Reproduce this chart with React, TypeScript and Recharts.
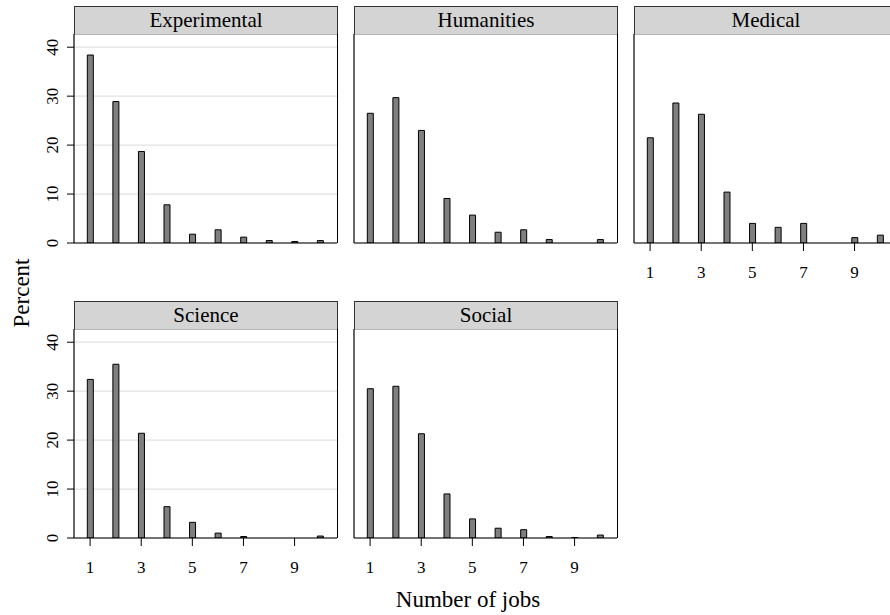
import React from "react";
import { BarChart, Bar, XAxis, YAxis, CartesianGrid } from "recharts";

const jobs = [1, 2, 3, 4, 5, 6, 7, 8, 9, 10];
const experimental = [38.4, 28.9, 18.7, 7.8, 1.8, 2.7, 1.2, 0.5, 0.3, 0.5];
const humanities = [26.5, 29.7, 23.0, 9.1, 5.7, 2.2, 2.7, 0.7, 0, 0.7];
const medical = [21.5, 28.6, 26.3, 10.4, 4.0, 3.2, 4.0, 0, 1.1, 1.6];
const science = [32.4, 35.5, 21.4, 6.4, 3.2, 1.0, 0.3, 0, 0, 0.4];
const social = [30.5, 31.0, 21.3, 9.0, 3.9, 2.0, 1.7, 0.3, 0.1, 0.6];

const xTicks = [1, 3, 5, 7, 9];
const yTicks = [0, 10, 20, 30, 40];
const xDomain = [0.37, 10.66];
const yDomain = [0, 42.7];

const FONT = "'Liberation Serif', 'Times New Roman', serif";

const PLOT_W = 263;
const PLOT_H = 209;
const HEADER_H = 28;
const AXIS_W = 60;
const XAXIS_H = 45;

type PanelSpec = {
  title: string;
  values: number[];
  col: number;
  row: number;
  showY: boolean;
  showX: boolean;
};

const panels: PanelSpec[] = [
  { title: "Experimental", values: experimental, col: 0, row: 0, showY: true, showX: false },
  { title: "Humanities", values: humanities, col: 1, row: 0, showY: false, showX: false },
  { title: "Medical", values: medical, col: 2, row: 0, showY: false, showX: true },
  { title: "Science", values: science, col: 0, row: 1, showY: true, showX: true },
  { title: "Social", values: social, col: 1, row: 1, showY: false, showX: true },
];

const colLeft = [74, 354, 634];
const headerTop = [6, 301];

const YTick = (props: any) => {
  const { x, y, payload } = props;
  return (
    <text
      x={x}
      y={y}
      transform={`rotate(-90 ${x} ${y})`}
      textAnchor="middle"
      dy="0.35em"
      fontSize={17}
      fill="#000"
      fontFamily={FONT}
    >
      {payload.value}
    </text>
  );
};

function Panel({ spec }: { spec: PanelSpec }) {
  const data = jobs.map((j, i) => ({ jobs: j, pct: spec.values[i] }));
  const left = colLeft[spec.col];
  const hTop = headerTop[spec.row];
  const pTop = hTop + HEADER_H;
  return (
    <>
      <div
        style={{
          position: "absolute",
          left: left,
          top: hTop,
          width: PLOT_W + 1,
          height: HEADER_H + 1,
          boxSizing: "border-box",
          border: "1px solid #333",
          background: "#d4d4d4",
          fontSize: 21,
          lineHeight: `${HEADER_H - 2}px`,
          textAlign: "center",
          color: "#000",
          fontFamily: FONT,
        }}
      >
        {spec.title}
      </div>
      <div style={{ position: "absolute", left: left - AXIS_W, top: pTop }}>
        <BarChart
          width={AXIS_W + PLOT_W + 10}
          height={PLOT_H + XAXIS_H}
          data={data}
          margin={{ top: 0, right: 10, bottom: 0, left: 0 }}
        >
          <CartesianGrid horizontal={true} vertical={false} stroke="#e2e2e2" strokeWidth={1.3} />
          <XAxis
            dataKey="jobs"
            type="number"
            domain={xDomain}
            ticks={xTicks}
            allowDataOverflow
            height={XAXIS_H}
            axisLine={{ stroke: "#000", strokeWidth: 1.2 }}
            tickLine={spec.showX ? { stroke: "#000" } : false}
            tick={spec.showX ? { fontSize: 17, fill: "#000", fontFamily: FONT } : false}
            tickSize={8}
            tickMargin={15}
            interval={0}
          />
          <YAxis
            type="number"
            domain={yDomain}
            ticks={yTicks}
            allowDataOverflow
            width={AXIS_W}
            axisLine={{ stroke: "#000", strokeWidth: 1.2 }}
            tickLine={spec.showY ? { stroke: "#000" } : false}
            tick={spec.showY ? <YTick /> : false}
            tickSize={7}
            tickMargin={14.5}
            interval={0}
          />
          <Bar
            dataKey="pct"
            fill="#7f7f7f"
            stroke="#000"
            strokeWidth={1}
            barSize={6}
            isAnimationActive={false}
          />
        </BarChart>
      </div>
      <div
        style={{
          position: "absolute",
          left: left,
          top: pTop,
          width: PLOT_W + 1,
          height: PLOT_H,
          boxSizing: "border-box",
          borderRight: "1.2px solid #000",
          pointerEvents: "none",
        }}
      />
    </>
  );
}

export default function App() {
  return (
    <div
      style={{
        position: "absolute",
        left: 0,
        top: 0,
        width: 890,
        height: 615,
        overflow: "hidden",
        background: "#fff",
        fontFamily: FONT,
      }}
    >
      {panels.map((p) => (
        <Panel key={p.title} spec={p} />
      ))}
      <svg
        width={890}
        height={615}
        style={{ position: "absolute", left: 0, top: 0, pointerEvents: "none" }}
      >
        <text
          x={21}
          y={293}
          transform="rotate(-90 21 293)"
          textAnchor="middle"
          dy="0.35em"
          fontSize={23}
          fill="#000"
          fontFamily={FONT}
        >
          Percent
        </text>
        <text
          x={468}
          y={599}
          textAnchor="middle"
          dy="0.35em"
          fontSize={23}
          fill="#000"
          fontFamily={FONT}
        >
          Number of jobs
        </text>
      </svg>
    </div>
  );
}
